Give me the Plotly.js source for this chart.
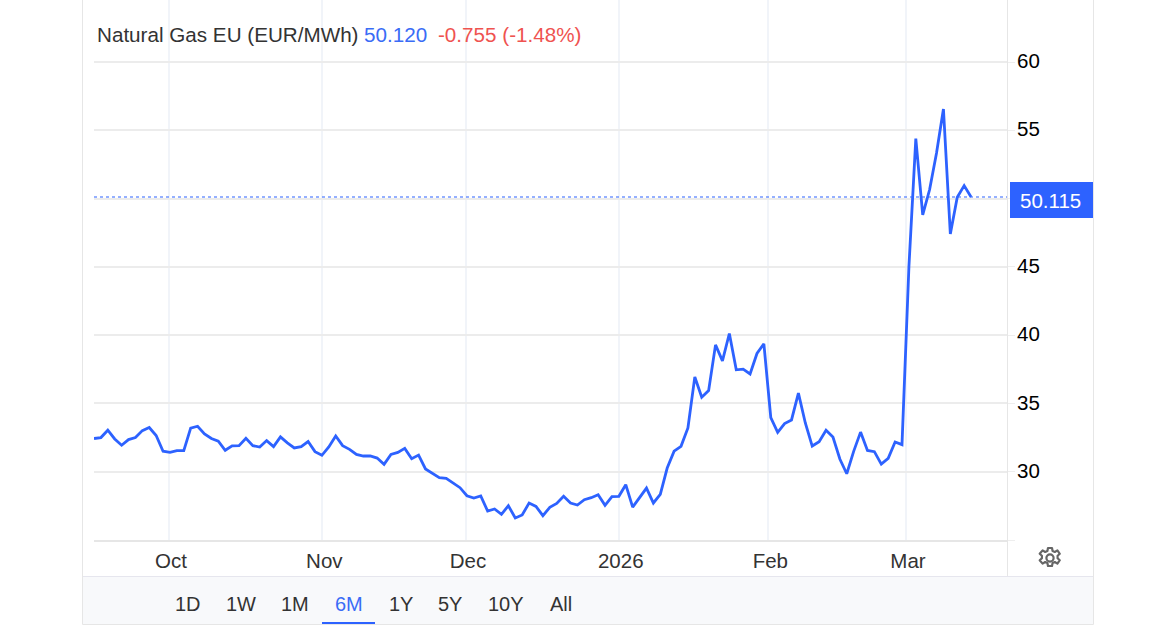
<!DOCTYPE html>
<html>
<head>
<meta charset="utf-8">
<script src="https://cdn.plot.ly/plotly-3.0.0.min.js"></script>
<style>html,body{margin:0;padding:0;background:#fff}#chart{width:1174px;height:635px}</style>
</head>
<body>
<div id="chart"></div>
<script>
const prices = [
32.43,32.5,33.04,32.4,31.94,32.35,32.5,33.01,33.24,32.65,31.5,31.42,31.54,31.54,33.19,33.33,32.77,32.43,32.23,31.57,
31.89,31.91,32.45,31.91,31.81,32.28,31.84,32.55,32.11,31.74,31.84,32.21,31.47,31.2,31.81,32.62,31.91,31.64,31.27,31.15,
31.15,31.0,30.54,31.27,31.41,31.71,30.95,31.22,30.2,29.9,29.56,29.51,29.2,28.83,28.24,28.07,28.22,27.12,27.27,26.88,
27.51,26.61,26.83,27.71,27.46,26.78,27.39,27.68,28.2,27.71,27.56,27.95,28.1,28.32,27.54,28.17,28.2,29.05,27.41,28.07,
28.8,27.71,28.34,30.27,31.5,31.86,33.2,36.94,35.45,35.94,39.29,38.12,40.12,37.46,37.51,37.16,38.66,39.36,33.96,32.88,
33.52,33.79,35.75,33.57,31.88,32.2,33.03,32.54,30.93,29.85,31.49,32.9,31.56,31.47,30.56,30.98,32.18,31.98,45.0,54.39,
48.8,50.66,53.34,56.56,47.41,50.1,50.95,50.12
];
const monthLabels = ["Oct","Nov","Dec","2026","Feb","Mar"];
const monthPositions = [10.86,33.06,53.87,75.98,97.64,117.58];
const priceTicks = [25,30,35,40,45,50,55,60];
const priceLabels = ["","30","35","40","45","","55","60"];
const rangeLabels = ["1D","1W","1M","6M","1Y","5Y","10Y","All"];
const rangeCenters = [187.5,241,295,348.5,400.5,450,506,560.5];
const lastPrice = 50.115;

const W = 1174, H = 635, L = 94, R = 1007, T = 0, B = 540;
const px = x => (x - L) / (R - L);
const py = y => (B - y) / (B - T);
const BLUE = "#2d62ff", FONT = "Liberation Sans, Arial, sans-serif";
const xIndex = prices.map((_, i) => i);

function label(text, x, y, color, anchor, size) {
  return {text, x: px(x), y: py(y), xref: "paper", yref: "paper", xanchor: anchor || "center", yanchor: "middle",
          showarrow: false, font: {family: FONT, size: size || 20.65, color}, borderpad: 0, borderwidth: 0};
}
function box(x0, y0, x1, y1, fill, line, layer) {
  return {type: "rect", xref: "paper", yref: "paper", x0: px(x0), x1: px(x1), y0: py(y0), y1: py(y1),
          fillcolor: fill, line: line || {width: 0}, layer: layer || "below"};
}

const gear = "data:image/svg+xml;utf8," + encodeURIComponent(
 '<svg xmlns="http://www.w3.org/2000/svg" viewBox="0 0 24 24" width="24" height="24"><g fill="none" stroke="#666666" stroke-width="2.2" stroke-linejoin="round">' +
 '<path d="M10 2h4l.6 3 2.2 1 2.6-1.6 2.4 3.4-2.2 2 .0 2.4 2.2 2-2.4 3.4-2.6-1.6-2.2 1-.6 3h-4l-.6-3-2.2-1-2.6 1.6L1.7 14.2l2.2-2 0-2.4-2.2-2L4.6 4.4l2.6 1.6 2.2-1z"/>' +
 '<circle cx="12" cy="12" r="3.6"/></g></svg>');

const trace = {x: xIndex, y: prices, type: "scatter", mode: "lines", hoverinfo: "skip",
  line: {color: BLUE, width: 2.8, shape: "linear"}};

const layout = {
  width: W, height: H, autosize: false, showlegend: false,
  paper_bgcolor: "#fff", plot_bgcolor: "#fff",
  margin: {l: L, r: W - R, t: T, b: H - B, pad: 0},
  xaxis: {range: [0, (R - L) / 6.906], tickmode: "array", tickvals: monthPositions, ticktext: monthLabels,
    showgrid: true, gridcolor: "#f1f4f9", gridwidth: 2, zeroline: false, showline: true, linecolor: "#e6e6e6", linewidth: 2,
    ticks: "", ticklabelstandoff: 1, ticklabelshift: 2, tickfont: {family: FONT, size: 20.5, color: "#333"}, fixedrange: true},
  yaxis: {range: [25, 64.54], side: "right", tickmode: "array", tickvals: priceTicks, ticktext: priceLabels,
    showgrid: true, gridcolor: "#ececec", gridwidth: 2, zeroline: false, showline: false,
    ticks: "outside", ticklen: 7, tickcolor: "#eeeeee", tickwidth: 1, ticklabelshift: -1, ticklabelstandoff: -2,
    tickfont: {family: FONT, size: 20.5, color: "#000"}, fixedrange: true},
  shapes: [
    box(82.5, -4, 1093.5, 624.5, "rgba(0,0,0,0)", {color: "#e6e6e6", width: 1}),
    box(83, 577, 1093, 624, "#f8f9fb", {width: 0}),
    {type: "line", xref: "paper", yref: "paper", x0: px(83), x1: px(1093), y0: py(576.5), y1: py(576.5), line: {color: "#e6e6ee", width: 1}, layer: "below"},
    {type: "line", xref: "paper", yref: "paper", x0: px(1007.5), x1: px(1007.5), y0: py(0), y1: py(576), line: {color: "#e6e6e6", width: 1}, layer: "below"},
    {type: "line", xref: "paper", yref: "y", x0: 0, x1: 1, y0: lastPrice, y1: lastPrice, line: {color: BLUE, width: 1.2, dash: "dot"}, layer: "above"},
    box(1010, 182, 1093, 218, BLUE, {width: 0}, "above"),
    box(322, 622, 375, 624, BLUE, {width: 0}, "above")
  ],
  annotations: [
    label("Natural Gas EU (EUR/MWh)", 97, 35, "#333", "left"),
    label("50.120", 364, 35, "#3a6cf6", "left"),
    label("-0.755 (-1.48%)", 438, 35, "#ef5350", "left"),
    label(lastPrice.toFixed(3), 1050.5, 200.5, "#fff", "center", 20.5)
  ].concat(rangeLabels.map((t, i) => label(t, rangeCenters[i], 604, t === "6M" ? "#3a6cf6" : "#333", "center", 20))),
  images: [{source: gear, xref: "paper", yref: "paper", x: px(1050), y: py(558), sizex: 24 / (R - L), sizey: 24 / (B - T),
            xanchor: "center", yanchor: "middle", sizing: "contain", layer: "above"}]
};
Plotly.newPlot("chart", [trace], layout, {displayModeBar: false, staticPlot: true});
</script>
</body>
</html>
